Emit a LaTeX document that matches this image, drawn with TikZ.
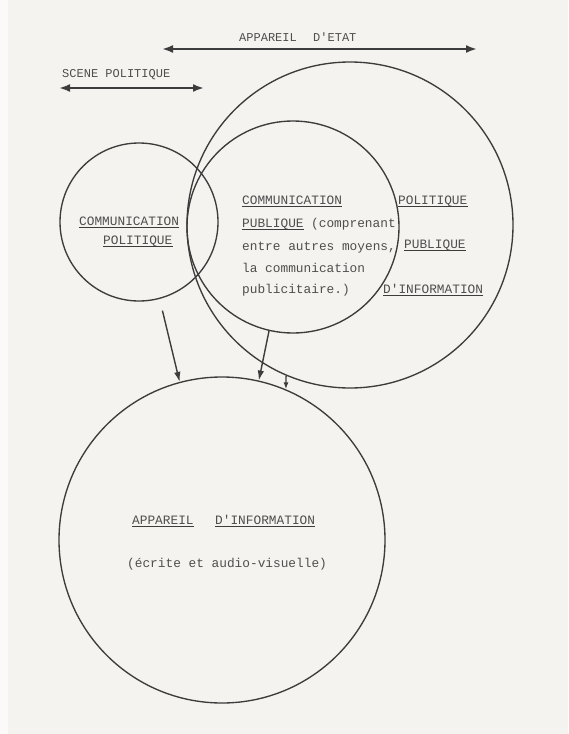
\documentclass[tikz,border=0pt]{standalone}
\usepackage{fontspec}
\newfontfamily\tw{Liberation Mono}
\usetikzlibrary{arrows.meta}
\definecolor{paper}{HTML}{F4F3EF}
\definecolor{ink}{HTML}{3C3C3C}
\definecolor{txt}{HTML}{4E4E4E}
\begin{document}
\begin{tikzpicture}[x=1pt,y=-1pt,
  ring/.style={circle, draw=ink, line width=1.35pt, inner sep=0pt},
  lbl/.style={inner sep=0pt, anchor=base west, text=txt, font=\tw\fontsize{12.8}{14}\selectfont},
  headlbl/.style={lbl, font=\tw\fontsize{12}{14}\selectfont},
  ulline/.style={draw=ink, line width=1.7pt},
  ul/.style={lbl, text depth=0pt, append after command={([yshift=-2.2pt]\tikzlastnode.south west) edge[ulline] ([yshift=-2.2pt]\tikzlastnode.south east)}},
  dbl/.style={{Latex[length=11pt,width=8pt]}-{Latex[length=11pt,width=8pt]}, line width=2.8pt, draw=ink},
  arr/.style={-{Latex[length=10pt,width=6.5pt]}, line width=1.4pt, draw=ink},
]
\fill[paper] (0,0) rectangle (568,734);
\fill[white!60!paper] (0,0) rectangle (8,734);
\useasboundingbox (0,0) rectangle (568,734);

% top labels and arrows
\node[headlbl] (tapp) at (239,41) {APPAREIL};
\node[headlbl] (tetat) at (313,41) {D'ETAT};
\coordinate (e1) at (162,49);
\coordinate (e2) at (477,49);
\draw[dbl] (e1) -- (e2);
\node[headlbl] (scene) at (62,77) {SCENE POLITIQUE};
\coordinate (s1) at (59,88);
\coordinate (s2) at (204,88);
\draw[dbl] (s1) -- (s2);

% circles
\node[ring, minimum size=326pt] (big) at (350,225) {};
\node[ring, minimum size=212pt] (mid) at (293,227) {};
\node[ring, minimum size=158pt] (small) at (139,222) {};
\node[ring, minimum size=326pt] (bot) at (222,540) {};

% small circle text
\node[ul] (cp1) at (79,225) {COMMUNICATION};
\node[ul] (cp2) at (103,244) {POLITIQUE};

% middle circle text
\node[ul] (mc1) at (242,204) {COMMUNICATION};
\node[ul] (mc2) at (242,227) {PUBLIQUE};
\node[lbl] (mc3) at (311,227) {(comprenant};
\node[lbl] (mc4) at (242,250) {entre autres moyens,};
\node[lbl] (mc5) at (242,272) {la communication};
\node[lbl] (mc6) at (242,293) {publicitaire.)};

% big circle text
\node[ul] (bp1) at (398,204) {POLITIQUE};
\node[ul] (bp2) at (404,248) {PUBLIQUE};
\node[ul] (bp3) at (383,293) {D'INFORMATION};

% bottom circle text
\node[ul] (ai1) at (132,524) {APPAREIL};
\node[ul] (ai2) at (215,524) {D'INFORMATION};
\node[lbl] (ai3) at (127,567) {(écrite et audio-visuelle)};

% arrows
\draw[arr, shorten <=12pt] (small.285) -- (bot.105);
\draw[arr] (mid.257) -- (bot.77);
\draw[arr, -{Latex[length=7pt,width=5pt]}] (big.247.5) -- (bot.67.5);
\end{tikzpicture}
\end{document}
